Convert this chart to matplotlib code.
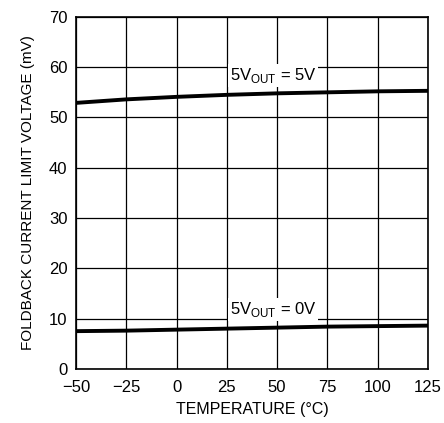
import matplotlib
matplotlib.use("Agg")
import matplotlib.pyplot as plt

plt.rcParams["font.family"] = ["Liberation Sans", "DejaVu Sans"]
plt.rcParams["mathtext.fontset"] = "custom"
plt.rcParams["mathtext.rm"] = "Liberation Sans"

temp_c = [-50, -25, 0, 25, 50, 75, 100, 125]
v_out_5v = [52.9, 53.6, 54.1, 54.5, 54.8, 55.0, 55.2, 55.3]
v_out_0v = [7.5, 7.6, 7.8, 8.0, 8.2, 8.4, 8.5, 8.6]

x_ticks = [-50, -25, 0, 25, 50, 75, 100, 125]
x_tick_labels = ["\u221250", "\u221225", "0", "25", "50", "75", "100", "125"]
y_ticks = [0, 10, 20, 30, 40, 50, 60, 70]

fig = plt.figure(figsize=(4.44, 4.23), dpi=100)
ax = fig.add_axes([0.171, 0.128, 0.793, 0.832])

ax.plot(temp_c, v_out_5v, color="black", lw=2.8, solid_capstyle="butt", zorder=3)
ax.plot(temp_c, v_out_0v, color="black", lw=2.8, solid_capstyle="butt", zorder=3)

ax.set_xlim(-50, 125)
ax.set_ylim(0, 70)
ax.set_xticks(x_ticks)
ax.set_xticklabels(x_tick_labels)
ax.set_yticks(y_ticks)
ax.grid(True, color="black", lw=0.9)
ax.tick_params(length=0, labelsize=12)
ax.tick_params(axis="x", pad=8)
ax.tick_params(axis="y", pad=6)
for s in ax.spines.values():
    s.set_linewidth(1.2)

ax.set_xlabel("TEMPERATURE (\u00b0C)", fontsize=11.5, labelpad=5)
ax.set_ylabel("FOLDBACK CURRENT LIMIT VOLTAGE (mV)", fontsize=11, labelpad=10)

box = dict(facecolor="white", edgecolor="none", pad=1.5)
ax.text(48, 58.3, "5V$_{\\mathrm{OUT}}$ = 5V", ha="center", va="center",
        fontsize=12, bbox=box, zorder=4)
ax.text(48, 11.8, "5V$_{\\mathrm{OUT}}$ = 0V", ha="center", va="center",
        fontsize=12, bbox=box, zorder=4)

fig.savefig("out.png", dpi=100)
plt.close(fig)
